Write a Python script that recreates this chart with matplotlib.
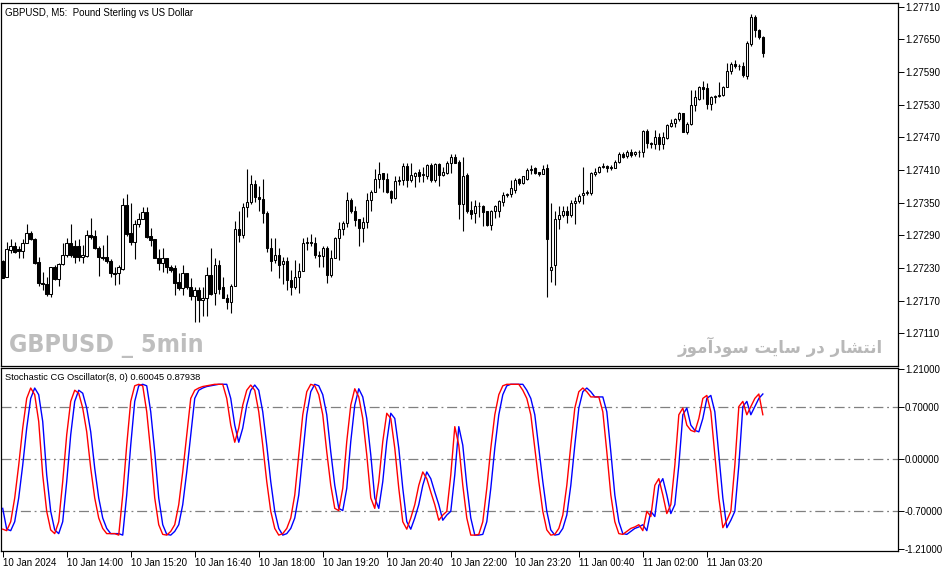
import numpy as np
import pandas as pd
import matplotlib
matplotlib.use("Agg")
import matplotlib.pyplot as plt
from matplotlib import font_manager

# GBPUSD M5 candles, 10 Jan 2024 12:40 -> 11 Jan 04:30
opens = [1.27242, 1.27214, 1.27263, 1.27271, 1.27265, 1.27262, 1.27276, 1.27294, 1.27283, 1.27241,
         1.27203, 1.27201, 1.27183, 1.27232, 1.27209, 1.27237, 1.27253, 1.27276, 1.27271, 1.27271,
         1.27251, 1.27252, 1.27291, 1.27289, 1.27266, 1.27251, 1.27251, 1.27243, 1.27221, 1.27220,
         1.27229, 1.27346, 1.27294, 1.27277, 1.27311, 1.27319, 1.27333, 1.27288, 1.27283, 1.27249,
         1.27240, 1.27248, 1.27232, 1.27230, 1.27204, 1.27194, 1.27220, 1.27195, 1.27178, 1.27190,
         1.27172, 1.27175, 1.27217, 1.27184, 1.27236, 1.27195, 1.27175, 1.27168, 1.27197, 1.27301,
         1.27290, 1.27342, 1.27351, 1.27385, 1.27361, 1.27357, 1.27331, 1.27266, 1.27245, 1.27254,
         1.27237, 1.27243, 1.27208, 1.27195, 1.27214, 1.27225, 1.27276, 1.27277, 1.27276, 1.27253,
         1.27252, 1.27266, 1.27217, 1.27249, 1.27285, 1.27301, 1.27312, 1.27355, 1.27335, 1.27319,
         1.27304, 1.27315, 1.27355, 1.27369, 1.27393, 1.27404, 1.27393, 1.27371, 1.27358, 1.27390,
         1.27392, 1.27417, 1.27392, 1.27399, 1.27406, 1.27400, 1.27399, 1.27419, 1.27392, 1.27421,
         1.27401, 1.27405, 1.27422, 1.27434, 1.27425, 1.27347, 1.27401, 1.27337, 1.27330, 1.27343,
         1.27344, 1.27334, 1.27309, 1.27335, 1.27335, 1.27352, 1.27364, 1.27365, 1.27374, 1.27394,
         1.27386, 1.27394, 1.27410, 1.27413, 1.27406, 1.27403, 1.27413, 1.27227, 1.27236, 1.27319,
         1.27327, 1.27335, 1.27328, 1.27350, 1.27353, 1.27364, 1.27368, 1.27368, 1.27403, 1.27407,
         1.27416, 1.27417, 1.27414, 1.27414, 1.27425, 1.27439, 1.27435, 1.27443, 1.27439, 1.27442,
         1.27443, 1.27482, 1.27459, 1.27458, 1.27471, 1.27457, 1.27469, 1.27491, 1.27497, 1.27503,
         1.27514, 1.27480, 1.27494, 1.27529, 1.27541, 1.27562, 1.27560, 1.27531, 1.27544, 1.27545,
         1.27548, 1.27562, 1.27591, 1.27605, 1.27600, 1.27601, 1.27582, 1.27642, 1.27690, 1.27667,
         1.27654]
highs = [1.27245, 1.27277, 1.27283, 1.27277, 1.27270, 1.27283, 1.27311, 1.27297, 1.27285, 1.27251,
         1.27223, 1.27214, 1.27232, 1.27235, 1.27239, 1.27276, 1.27285, 1.27311, 1.27282, 1.27283,
         1.27273, 1.27300, 1.27321, 1.27300, 1.27270, 1.27273, 1.27291, 1.27246, 1.27232, 1.27236,
         1.27358, 1.27366, 1.27350, 1.27318, 1.27330, 1.27342, 1.27342, 1.27303, 1.27283, 1.27265,
         1.27266, 1.27248, 1.27236, 1.27236, 1.27220, 1.27236, 1.27220, 1.27211, 1.27195, 1.27195,
         1.27195, 1.27232, 1.27266, 1.27248, 1.27245, 1.27214, 1.27183, 1.27201, 1.27317, 1.27335,
         1.27350, 1.27411, 1.27401, 1.27392, 1.27380, 1.27393, 1.27334, 1.27285, 1.27285, 1.27266,
         1.27251, 1.27251, 1.27227, 1.27245, 1.27239, 1.27285, 1.27287, 1.27293, 1.27287, 1.27262,
         1.27270, 1.27270, 1.27263, 1.27287, 1.27315, 1.27317, 1.27370, 1.27358, 1.27343, 1.27319,
         1.27324, 1.27367, 1.27374, 1.27411, 1.27425, 1.27405, 1.27404, 1.27373, 1.27398, 1.27398,
         1.27422, 1.27422, 1.27422, 1.27407, 1.27411, 1.27415, 1.27421, 1.27422, 1.27422, 1.27423,
         1.27415, 1.27427, 1.27439, 1.27439, 1.27428, 1.27434, 1.27405, 1.27353, 1.27355, 1.27352,
         1.27346, 1.27335, 1.27337, 1.27346, 1.27355, 1.27370, 1.27368, 1.27392, 1.27395, 1.27396,
         1.27398, 1.27413, 1.27419, 1.27416, 1.27407, 1.27419, 1.27421, 1.27349, 1.27334, 1.27343,
         1.27343, 1.27343, 1.27355, 1.27361, 1.27366, 1.27416, 1.27373, 1.27407, 1.27413, 1.27417,
         1.27422, 1.27419, 1.27419, 1.27428, 1.27442, 1.27442, 1.27447, 1.27448, 1.27444, 1.27446,
         1.27484, 1.27486, 1.27462, 1.27483, 1.27478, 1.27480, 1.27494, 1.27504, 1.27506, 1.27516,
         1.27515, 1.27498, 1.27557, 1.27556, 1.27564, 1.27574, 1.27569, 1.27546, 1.27548, 1.27572,
         1.27564, 1.27607, 1.27609, 1.27611, 1.27605, 1.27609, 1.27646, 1.27696, 1.27694, 1.27668,
         1.27656]
lows = [1.27211, 1.27214, 1.27257, 1.27257, 1.27248, 1.27248, 1.27276, 1.27282, 1.27238, 1.27197,
        1.27189, 1.27178, 1.27177, 1.27208, 1.27197, 1.27236, 1.27251, 1.27251, 1.27239, 1.27242,
        1.27239, 1.27251, 1.27283, 1.27265, 1.27215, 1.27245, 1.27239, 1.27214, 1.27198, 1.27201,
        1.27227, 1.27288, 1.27273, 1.27246, 1.27306, 1.27319, 1.27285, 1.27270, 1.27248, 1.27226,
        1.27223, 1.27220, 1.27223, 1.27180, 1.27190, 1.27180, 1.27192, 1.27171, 1.27131, 1.27131,
        1.27141, 1.27141, 1.27180, 1.27162, 1.27183, 1.27174, 1.27154, 1.27148, 1.27197, 1.27277,
        1.27285, 1.27323, 1.27348, 1.27352, 1.27334, 1.27312, 1.27260, 1.27225, 1.27239, 1.27211,
        1.27201, 1.27190, 1.27180, 1.27192, 1.27184, 1.27225, 1.27263, 1.27270, 1.27248, 1.27232,
        1.27232, 1.27203, 1.27213, 1.27248, 1.27245, 1.27291, 1.27306, 1.27330, 1.27307, 1.27271,
        1.27277, 1.27303, 1.27335, 1.27369, 1.27376, 1.27369, 1.27368, 1.27350, 1.27356, 1.27382,
        1.27382, 1.27379, 1.27387, 1.27378, 1.27388, 1.27388, 1.27394, 1.27388, 1.27388, 1.27381,
        1.27398, 1.27403, 1.27405, 1.27422, 1.27319, 1.27297, 1.27330, 1.27320, 1.27313, 1.27324,
        1.27307, 1.27307, 1.27300, 1.27321, 1.27324, 1.27343, 1.27361, 1.27361, 1.27367, 1.27382,
        1.27384, 1.27392, 1.27402, 1.27402, 1.27399, 1.27407, 1.27177, 1.27205, 1.27198, 1.27301,
        1.27323, 1.27312, 1.27324, 1.27311, 1.27350, 1.27348, 1.27364, 1.27364, 1.27398, 1.27404,
        1.27413, 1.27407, 1.27410, 1.27413, 1.27423, 1.27432, 1.27432, 1.27434, 1.27435, 1.27434,
        1.27434, 1.27450, 1.27450, 1.27449, 1.27447, 1.27449, 1.27467, 1.27488, 1.27489, 1.27500,
        1.27480, 1.27476, 1.27492, 1.27518, 1.27538, 1.27540, 1.27521, 1.27520, 1.27532, 1.27544,
        1.27546, 1.27562, 1.27586, 1.27597, 1.27594, 1.27581, 1.27576, 1.27638, 1.27654, 1.27650,
        1.27617]
closes = [1.27212, 1.27265, 1.27271, 1.27260, 1.27262, 1.27276, 1.27294, 1.27283, 1.27239, 1.27203,
          1.27200, 1.27183, 1.27231, 1.27209, 1.27237, 1.27254, 1.27276, 1.27254, 1.27251, 1.27250,
          1.27254, 1.27291, 1.27287, 1.27266, 1.27250, 1.27249, 1.27243, 1.27221, 1.27219, 1.27231,
          1.27346, 1.27292, 1.27277, 1.27311, 1.27319, 1.27333, 1.27286, 1.27282, 1.27249, 1.27240,
          1.27248, 1.27231, 1.27227, 1.27203, 1.27194, 1.27220, 1.27195, 1.27178, 1.27190, 1.27172,
          1.27175, 1.27217, 1.27183, 1.27236, 1.27192, 1.27175, 1.27168, 1.27197, 1.27301, 1.27290,
          1.27342, 1.27351, 1.27385, 1.27361, 1.27356, 1.27330, 1.27266, 1.27242, 1.27254, 1.27235,
          1.27243, 1.27208, 1.27195, 1.27214, 1.27225, 1.27276, 1.27277, 1.27276, 1.27253, 1.27252,
          1.27266, 1.27217, 1.27249, 1.27285, 1.27301, 1.27312, 1.27355, 1.27334, 1.27318, 1.27304,
          1.27314, 1.27355, 1.27369, 1.27393, 1.27402, 1.27393, 1.27370, 1.27358, 1.27390, 1.27392,
          1.27417, 1.27392, 1.27401, 1.27405, 1.27399, 1.27402, 1.27419, 1.27392, 1.27420, 1.27401,
          1.27406, 1.27422, 1.27433, 1.27422, 1.27347, 1.27399, 1.27335, 1.27329, 1.27343, 1.27344,
          1.27332, 1.27309, 1.27335, 1.27343, 1.27353, 1.27364, 1.27365, 1.27376, 1.27392, 1.27386,
          1.27398, 1.27410, 1.27411, 1.27405, 1.27402, 1.27411, 1.27283, 1.27231, 1.27319, 1.27327,
          1.27335, 1.27327, 1.27350, 1.27353, 1.27363, 1.27368, 1.27369, 1.27404, 1.27407, 1.27415,
          1.27417, 1.27414, 1.27415, 1.27425, 1.27439, 1.27434, 1.27443, 1.27437, 1.27443, 1.27443,
          1.27482, 1.27459, 1.27458, 1.27470, 1.27457, 1.27471, 1.27492, 1.27497, 1.27503, 1.27514,
          1.27480, 1.27495, 1.27529, 1.27544, 1.27562, 1.27559, 1.27531, 1.27544, 1.27546, 1.27548,
          1.27562, 1.27591, 1.27605, 1.27600, 1.27601, 1.27584, 1.27643, 1.27690, 1.27667, 1.27654,
          1.27624]

# Stochastic CG oscillator (red), trigger (blue) is the previous bar's value
cg = [-0.94, -0.96, -0.84, -0.52, -0.08, 0.42, 0.82, 0.96, 0.87, 0.51,
      -0.21, -0.70, -0.95, -1.00, -0.84, -0.30, 0.33, 0.78, 0.93, 0.89,
      0.69, 0.37, -0.12, -0.52, -0.79, -0.93, -1.00, -1.00, -1.00, -1.02,
      -0.48, 0.19, 0.78, 0.99, 1.01, 0.99, 0.64, 0.10, -0.52, -0.88,
      -1.01, -1.02, -0.97, -0.88, -0.61, -0.17, 0.33, 0.82, 0.93, 0.96,
      0.98, 0.99, 1.00, 1.01, 1.01, 1.01, 0.82, 0.46, 0.23, 0.42,
      0.73, 0.93, 1.00, 0.93, 0.64, 0.19, -0.30, -0.70, -0.93, -1.02,
      -1.00, -0.93, -0.79, -0.48, 0.06, 0.60, 0.91, 1.01, 0.99, 0.87,
      0.60, 0.10, -0.35, -0.66, -0.69, -0.39, 0.24, 0.73, 0.95, 0.84,
      0.55, 0.06, -0.52, -0.66, -0.30, 0.24, 0.62, 0.55, 0.15, -0.39,
      -0.84, -0.94, -0.79, -0.61, -0.35, -0.17, -0.26, -0.44, -0.61, -0.82,
      -0.75, -0.70, -0.21, 0.44, 0.19, -0.35, -0.79, -1.02, -1.02, -1.01,
      -0.84, -0.39, 0.15, 0.60, 0.87, 0.99, 1.01, 1.01, 1.01, 1.01,
      0.93, 0.82, 0.60, 0.15, -0.30, -0.70, -0.95, -1.02, -1.01, -0.93,
      -0.75, -0.35, 0.19, 0.69, 0.91, 0.96, 0.91, 0.84, 0.84, 0.84,
      0.64, 0.10, -0.48, -0.84, -1.00, -1.01, -0.97, -0.93, -0.91, -0.88,
      -0.96, -0.70, -0.77, -0.35, -0.26, -0.48, -0.73, -0.61, -0.08, 0.60,
      0.69, 0.46, 0.39, 0.37, 0.55, 0.82, 0.86, 0.64, 0.06, -0.52,
      -0.92, -0.82, -0.70, -0.08, 0.71, 0.78, 0.60, 0.71, 0.82, 0.87938,
      0.60045]
trigger_first = -0.66
levels = [0.7, 0.0, -0.7]

price_ticks = [1.27110, 1.27170, 1.27230, 1.27290, 1.27350, 1.27410, 1.27470, 1.27530, 1.27590, 1.27650, 1.27710]
osc_ticks = [-1.21, -0.70, 0.0, 0.70, 1.21]
time_labels = ["10 Jan 2024", "10 Jan 14:00", "10 Jan 15:20", "10 Jan 16:40", "10 Jan 18:00",
               "10 Jan 19:20", "10 Jan 20:40", "10 Jan 22:00", "10 Jan 23:20", "11 Jan 00:40",
               "11 Jan 02:00", "11 Jan 03:20"]

times = pd.date_range("2024-01-10 12:40", periods=len(opens), freq="5min")
x = np.arange(len(opens))
o = np.array(opens); h = np.array(highs); l = np.array(lows); c = np.array(closes)
trig = [trigger_first] + cg[:-1]

# persian watermark: simple shaping so it renders joined, right to left
FORMS = {
    'ا': ('\uFE8D', '\uFE8E', None, None),
    'آ': ('\uFE81', '\uFE82', None, None),
    'ن': ('\uFEE5', '\uFEE6', '\uFEE7', '\uFEE8'),
    'ت': ('\uFE95', '\uFE96', '\uFE97', '\uFE98'),
    'ش': ('\uFEB5', '\uFEB6', '\uFEB7', '\uFEB8'),
    'ر': ('\uFEAD', '\uFEAE', None, None),
    'د': ('\uFEA9', '\uFEAA', None, None),
    'س': ('\uFEB1', '\uFEB2', '\uFEB3', '\uFEB4'),
    'ی': ('\uFBFC', '\uFBFD', '\uFBFE', '\uFBFF'),
    'و': ('\uFEED', '\uFEEE', None, None),
    'م': ('\uFEE1', '\uFEE2', '\uFEE3', '\uFEE4'),
    'ز': ('\uFEAF', '\uFEB0', None, None),
}

def shape(word):
    out = []
    for k, ch in enumerate(word):
        f = FORMS.get(ch)
        if f is None:
            out.append(ch)
            continue
        prev = word[k-1] if k > 0 else None
        nxt = word[k+1] if k + 1 < len(word) else None
        jp = prev in FORMS and FORMS[prev][2] is not None
        jn = nxt in FORMS and f[2] is not None
        if jp and jn:
            out.append(f[3])
        elif jp:
            out.append(f[1])
        elif jn:
            out.append(f[2])
        else:
            out.append(f[0])
    return ''.join(out)[::-1]

fa_text = "انتشار در سایت سودآموز"
fa_visual = ' '.join(shape(w) for w in fa_text.split()[::-1])

names = {f.name for f in font_manager.fontManager.ttflist}
small_font = "Liberation Sans" if "Liberation Sans" in names else "DejaVu Sans"

# look for a narrow bold face for the watermark
wm_prop = None
for f in font_manager.fontManager.ttflist:
    narrow = ("Condensed" in f.name or "Narrow" in f.name or
              f.stretch in ("condensed", "semi-condensed", "extra-condensed"))
    if narrow and f.weight in ("bold", 700, "heavy", 800, 900):
        wm_prop = font_manager.FontProperties(fname=f.fname, size=18)
        break
if wm_prop is None:
    wm_prop = font_manager.FontProperties(family=small_font, weight="bold", size=17)

fig = plt.figure(figsize=(9.51, 5.72), dpi=100)
ax = fig.add_axes([0.00105, 0.3601, 0.9433, 0.6352])
ax2 = fig.add_axes([0.00105, 0.0367, 0.9433, 0.3199])

# candles
ax.vlines(x, l, h, color="black", linewidth=0.8, zorder=2)
up = c >= o
body_h = np.abs(c - o)
ax.bar(x, body_h, bottom=np.minimum(o, c), width=0.62,
       color=np.where(up, "white", "black"), edgecolor="black", linewidth=0.75, zorder=3)

ax.set_xlim(-0.425, 223.8)
ax.set_ylim(1.27050, 1.27717)
ax.yaxis.tick_right()
ax.set_yticks(price_ticks)
ax.set_yticklabels([f"{v:.5f}" for v in price_ticks])
ax.set_xticks([])
ax.tick_params(axis="y", length=4, width=0.7, labelsize=7, pad=1)
for t in ax.get_yticklabels():
    t.set_fontfamily(small_font)
for s in ax.spines.values():
    s.set_linewidth(0.9)

ax.text(0.004, 0.985, "GBPUSD, M5:  Pound Sterling vs US Dollar", transform=ax.transAxes,
        fontsize=7, family=small_font, va="top", ha="left")
ax.text(0.009, 0.022, "GBPUSD _ 5min", transform=ax.transAxes, fontproperties=wm_prop,
        color="#BEBEBE", va="bottom", ha="left")
ax.text(0.983, 0.025, fa_visual, transform=ax.transAxes, fontsize=12, fontweight="bold",
        family="DejaVu Sans", color="#B8B8B8", va="bottom", ha="right")

# oscillator
for lv in levels:
    ax2.axhline(lv, color="#808080", linewidth=0.9, linestyle=(0, (8, 3, 1.5, 3)), zorder=1)
ax2.plot(x, trig, color="#0000FF", linewidth=1.0, zorder=3)
ax2.plot(x, cg, color="#FF0000", linewidth=1.0, zorder=4)
ax2.set_xlim(-0.425, 223.8)
ax2.set_ylim(-1.234, 1.229)
ax2.yaxis.tick_right()
ax2.set_yticks(osc_ticks)
ax2.set_yticklabels([f"{v:.5f}" for v in osc_ticks])
tick_idx = [i for i, t in enumerate(times) if (t - times[0]).seconds % 4800 == 0 and (t - times[0]).days == 0]
ax2.set_xticks(tick_idx)
ax2.set_xticklabels(time_labels[:len(tick_idx)], ha="left")
ax2.tick_params(axis="both", length=4, width=0.7, labelsize=7, pad=1)
for t in ax2.get_xticklabels() + ax2.get_yticklabels():
    t.set_fontfamily(small_font)
for s in ax2.spines.values():
    s.set_linewidth(0.9)
ax2.text(0.004, 0.975, f"Stochastic CG Oscillator(8, 0) {cg[-1]:.5f} {trig[-1]:.5f}",
         transform=ax2.transAxes, fontsize=6.7, family=small_font, va="top", ha="left")

fig.savefig("out.png", dpi=100)
